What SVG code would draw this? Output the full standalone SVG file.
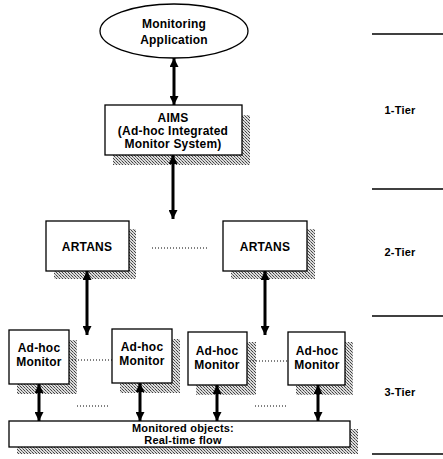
<svg xmlns="http://www.w3.org/2000/svg" width="443" height="459" viewBox="0 0 443 459">
<style>
.box{fill:#fff;stroke:#000;stroke-width:1.3}
.shadow{fill:url(#stip)}
.t{font-family:"Liberation Sans",Arial,sans-serif;font-weight:bold;font-size:12px;fill:#000;text-anchor:middle;letter-spacing:0.2px}
.s{font-size:11px}
.conn{stroke:#000;stroke-width:3;fill:none;marker-start:url(#ah);marker-end:url(#ah)}
.dot{stroke:#000;stroke-width:1;stroke-dasharray:1 2;fill:none}
.tier{stroke:#000;stroke-width:1.3}
</style>
<defs>
<pattern id="stip" width="3" height="3" patternUnits="userSpaceOnUse">
<rect width="3" height="3" fill="#dcdcdc"/>
<rect x="0" y="0" width="1" height="1" fill="#444"/>
<rect x="1" y="1" width="1" height="1" fill="#777"/>
<rect x="2" y="2" width="1" height="1" fill="#444"/>
</pattern>
<marker id="ah" viewBox="0 0 10 10" refX="10" refY="5" markerWidth="12" markerHeight="9" markerUnits="userSpaceOnUse" orient="auto-start-reverse">
<path d="M0,0 L10,5 L0,10 z" fill="#000"/>
</marker>
</defs>

<g id="tiers">
<line class="tier" x1="372" y1="34" x2="443" y2="34"/>
<line class="tier" x1="372" y1="189" x2="443" y2="189"/>
<line class="tier" x1="372" y1="316" x2="443" y2="316"/>
<line class="tier" x1="372" y1="454" x2="443" y2="454"/>
<text class="t s" x="400" y="114">1-Tier</text>
<text class="t s" x="400" y="256">2-Tier</text>
<text class="t s" x="400" y="396">3-Tier</text>
</g>

<g id="app">
<ellipse cx="174" cy="31" rx="74" ry="27" fill="#fff" stroke="#000" stroke-width="1.3"/>
<text class="t" x="174" y="28">Monitoring</text>
<text class="t" x="174" y="44">Application</text>
</g>

<g id="aims">
<rect class="shadow" x="113" y="115" width="137" height="50"/>
<rect class="box" x="105" y="105" width="137" height="50"/>
<text class="t" x="173" y="122">AIMS</text>
<text class="t" x="173" y="135">(Ad-hoc Integrated</text>
<text class="t" x="173" y="148">Monitor System)</text>
</g>

<g id="artans1">
<rect class="shadow" x="54" y="229" width="82" height="50"/>
<rect class="box" x="46" y="221" width="83" height="50"/>
<text class="t" x="87" y="251">ARTANS</text>
</g>

<g id="artans2">
<rect class="shadow" x="231" y="229" width="84" height="50"/>
<rect class="box" x="223" y="221" width="84" height="50"/>
<text class="t" x="265" y="251">ARTANS</text>
</g>

<g id="monitor1">
<rect class="shadow" x="17" y="340" width="60" height="54"/>
<rect class="box" x="9" y="330" width="60" height="54"/>
<text class="t" x="39" y="352">Ad-hoc</text>
<text class="t" x="39" y="366">Monitor</text>
</g>

<g id="monitor2">
<rect class="shadow" x="120" y="339" width="60" height="54"/>
<rect class="box" x="112" y="329" width="60" height="54"/>
<text class="t" x="142" y="351">Ad-hoc</text>
<text class="t" x="142" y="365">Monitor</text>
</g>

<g id="monitor3">
<rect class="shadow" x="196" y="342" width="60" height="53"/>
<rect class="box" x="188" y="332" width="59" height="53"/>
<text class="t" x="217" y="355">Ad-hoc</text>
<text class="t" x="217" y="369">Monitor</text>
</g>

<g id="monitor4">
<rect class="shadow" x="296" y="342" width="57" height="53"/>
<rect class="box" x="288" y="332" width="57" height="53"/>
<text class="t" x="317" y="355">Ad-hoc</text>
<text class="t" x="317" y="369">Monitor</text>
</g>

<g id="objects">
<rect class="shadow" x="17" y="429" width="341" height="25"/>
<rect class="box" x="9" y="421" width="341" height="26"/>
<text class="t s" x="183" y="432">Monitored objects:</text>
<text class="t s" x="183" y="444">Real-time flow</text>
</g>

<g id="connectors">
<line class="conn" x1="174" y1="58" x2="174" y2="105"/>
<line class="conn" x1="173" y1="155" x2="173" y2="219"/>
<line class="conn" x1="87" y1="271" x2="87" y2="335"/>
<line class="conn" x1="265" y1="271" x2="265" y2="335"/>
<line class="conn" x1="39" y1="384" x2="39" y2="421"/>
<line class="conn" x1="140" y1="383" x2="140" y2="421"/>
<line class="conn" x1="217" y1="385" x2="217" y2="421"/>
<line class="conn" x1="318" y1="385" x2="318" y2="421"/>
<line class="dot" x1="152" y1="248" x2="207" y2="248"/>
<line class="dot" x1="72" y1="360" x2="112" y2="360"/>
<line class="dot" x1="250" y1="361" x2="288" y2="361"/>
<line class="dot" x1="77" y1="406" x2="110" y2="406"/>
<line class="dot" x1="255" y1="406" x2="287" y2="406"/>
</g>
</svg>
